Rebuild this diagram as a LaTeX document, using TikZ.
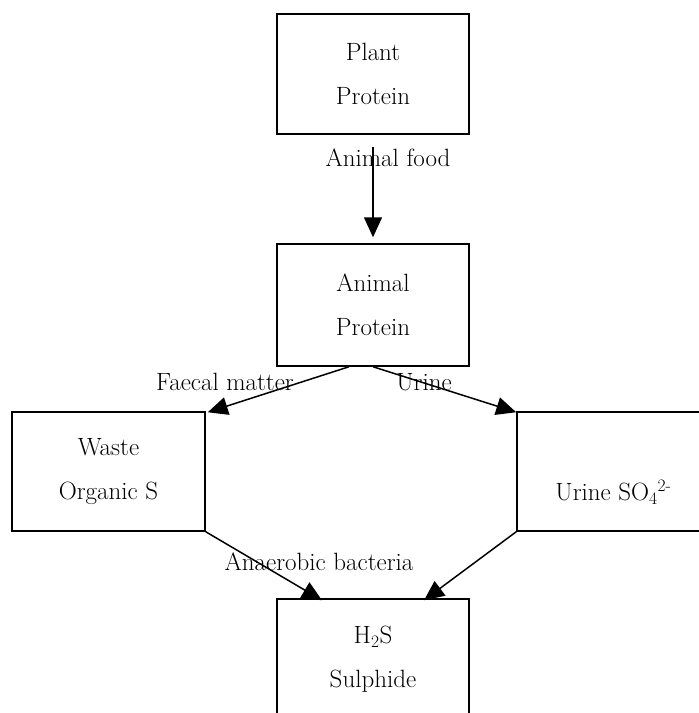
\documentclass[tikz,border=0pt]{standalone}
\usetikzlibrary{arrows.meta}
\begin{document}
\begin{tikzpicture}[x=1pt,y=-1pt,
  every node/.style={font=\fontsize{25}{44}\selectfont},
  box/.style={draw,line width=1.5pt,minimum width=192pt,align=center,inner sep=0pt},
  lbl/.style={inner sep=0pt},
  arr/.style={line width=1.5pt,-{Triangle[length=20pt,width=18pt]}}]
\useasboundingbox (0,0) rectangle (699,713);
\clip (0,0) rectangle (699,713);
\node[box,minimum height=120pt] (plant) at (373,74) {Plant\\Protein};
\node[box,minimum height=122pt] (animal) at (373,305) {Animal\\Protein};
\node[box,minimum width=193pt,minimum height=119pt] (waste) at (108.5,471.5) {Waste\\Organic S};
\node[box,minimum width=193pt,minimum height=119pt] (urine) at (613.5,471.5) {\raisebox{-29pt}[0pt][0pt]{Urine SO\textsubscript{4}\textsuperscript{2-}}};
\node[box,minimum height=120pt] (hts) at (373,659) {H\textsubscript{2}S\\Sulphide};
\draw[arr] ([yshift=-12pt]plant.south) -- ([yshift=6pt]animal.north);
\draw[arr] ([xshift=-24pt]animal.south) -- ([xshift=2pt,yshift=-1pt]waste.north east);
\draw[arr] (animal.south) -- ([yshift=-1pt]urine.north west);
\draw[arr] (waste.south east) -- ([xshift=-51pt,yshift=-2pt]hts.north);
\draw[arr] (urine.south west) -- ([xshift=51pt,yshift=-2pt]hts.north);
\node[lbl] (lfood) at (388,158) {Animal food};
\node[lbl] (lfaecal) at (225,382) {Faecal matter};
\node[lbl] (lurine) at (424,382) {Urine};
\node[lbl] (lanaer) at (319,562) {Anaerobic bacteria};
\end{tikzpicture}
\end{document}
